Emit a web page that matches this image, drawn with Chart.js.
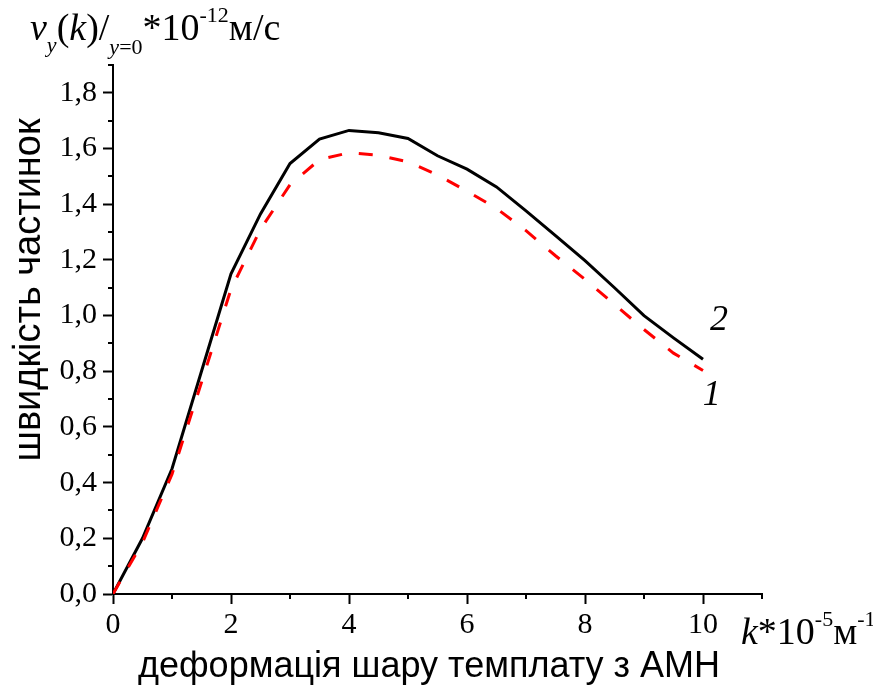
<!DOCTYPE html>
<html>
<head>
<meta charset="utf-8">
<script src="https://cdn.jsdelivr.net/npm/chart.js@4.4.1/dist/chart.umd.min.js"></script>
<style>
html,body{margin:0;padding:0;background:#fff;}
#wrap{width:873px;height:688px;position:relative;}
</style>
</head>
<body>
<div id="wrap"><canvas id="chartSwidkist"></canvas></div>
<script>
/* швидкість частинок vs деформація шару темплату, криві 1 і 2 */
var kValues = [0, 0.5, 1, 1.5, 2, 2.5, 3, 3.5, 4, 4.5, 5, 5.5, 6, 6.5, 7, 7.5, 8, 8.5, 9, 9.5, 10];
var curve2 = [0, 0.2, 0.45, 0.8, 1.15, 1.365, 1.546, 1.634, 1.665, 1.657, 1.636, 1.574, 1.526, 1.462, 1.376, 1.287, 1.197, 1.1, 1.0, 0.92, 0.843];
var curve1 = [0, 0.185, 0.43, 0.76, 1.095, 1.31, 1.47, 1.56, 1.585, 1.576, 1.552, 1.505, 1.447, 1.385, 1.305, 1.215, 1.13, 1.04, 0.95, 0.865, 0.803];
var yTickValues = [0, 0.2, 0.4, 0.6, 0.8, 1.0, 1.2, 1.4, 1.6, 1.8];
var yTickLabels = ['0,0', '0,2', '0,4', '0,6', '0,8', '1,0', '1,2', '1,4', '1,6', '1,8'];
var yMinorTicks = [0.1, 0.3, 0.5, 0.7, 0.9, 1.1, 1.3, 1.5, 1.7, 1.9];
var xTickValues = [0, 2, 4, 6, 8, 10];
var xTickLabels = ['0', '2', '4', '6', '8', '10'];
var xMinorTicks = [1, 3, 5, 7, 9, 11];

(function(){
'use strict';

var SERIF = '"Liberation Serif", "Times New Roman", serif';
var SANS = '"Liberation Sans", Arial, sans-serif';

function points(ys){
  return kValues.map(function(k, i){ return {x:k, y:ys[i]}; });
}

// pieces: [text, size, italic, shift]
function drawPieces(ctx, x, y, pieces){
  pieces.forEach(function(p){
    ctx.font = (p[2] ? 'italic ' : '') + p[1] + 'px ' + SERIF;
    ctx.fillText(p[0], x, y + p[3]);
    x += ctx.measureText(p[0]).width;
  });
}

var decorPlugin = {
  id:'decor',
  afterDraw:function(chart){
    var ctx = chart.ctx;
    var xs = chart.scales.x, ys = chart.scales.y;
    var area = chart.chartArea;
    ctx.save();
    // minor ticks
    ctx.strokeStyle = '#000';
    ctx.lineWidth = 2;
    ctx.beginPath();
    yMinorTicks.forEach(function(v){
      var py = Math.round(ys.getPixelForValue(v));
      ctx.moveTo(area.left - 5, py); ctx.lineTo(area.left, py);
    });
    xMinorTicks.forEach(function(v){
      var px = Math.round(xs.getPixelForValue(v));
      ctx.moveTo(px, area.bottom); ctx.lineTo(px, area.bottom + 5);
    });
    ctx.stroke();

    ctx.fillStyle = '#000';
    ctx.textBaseline = 'alphabetic';
    ctx.textAlign = 'left';

    // top-left unit label
    drawPieces(ctx, 30, 40, [
      ['v', 38, true, 0], ['y', 22, true, 12], ['(', 38, false, 0], ['k', 38, true, 0],
      [')/', 38, false, 0], ['y', 22, true, 14], ['=0', 22, false, 14],
      ['*10', 38, false, 0], ['-12', 22, false, -18], ['м/с', 38, false, 0]
    ]);
    // bottom-right unit label
    drawPieces(ctx, 741, 644, [
      ['k', 38, true, 0], ['*10', 38, false, 0], ['-5', 22, false, -18],
      ['м', 38, false, 0], ['-1', 22, false, -18]
    ]);

    // curve numbers
    ctx.font = 'italic 36px ' + SERIF;
    ctx.textAlign = 'center';
    ctx.textBaseline = 'middle';
    ctx.fillText('2', xs.getPixelForValue(10.27), ys.getPixelForValue(0.983));
    ctx.fillText('1', xs.getPixelForValue(10.15), ys.getPixelForValue(0.714));

    // axis titles
    ctx.font = '36px ' + SANS;
    ctx.textBaseline = 'alphabetic';
    ctx.fillText('деформація шару темплату з АМН', 429, 677);
    ctx.font = '38px ' + SANS;
    ctx.translate(40, 290);
    ctx.rotate(-Math.PI / 2);
    ctx.fillText('швидкість частинок', 0, 0);
    ctx.restore();
  }
};

function axisBase(){
  return {
    type:'linear',
    grid:{drawOnChartArea:false, drawTicks:true, tickLength:10, tickWidth:2, tickColor:'#000'},
    border:{display:true, color:'#000', width:2},
    ticks:{color:'#000', font:{family:SERIF, size:30}, autoSkip:false, maxRotation:0}
  };
}

var xAxis = axisBase();
xAxis.min = 0; xAxis.max = 11;
xAxis.ticks.padding = 3;
xAxis.ticks.callback = function(v, i){ return xTickLabels[i]; };
xAxis.afterBuildTicks = function(s){ s.ticks = xTickValues.map(function(v){ return {value:v}; }); };
xAxis.afterFit = function(s){ s.height = 94; };

var yAxis = axisBase();
yAxis.min = 0; yAxis.max = 1.9;
yAxis.ticks.padding = 6;
yAxis.ticks.callback = function(v, i){ return yTickLabels[i]; };
yAxis.afterBuildTicks = function(s){ s.ticks = yTickValues.map(function(v){ return {value:v}; }); };
yAxis.afterFit = function(s){ s.width = 113; };

new Chart(document.getElementById('chartSwidkist'), {
  type:'line',
  data:{
    datasets:[
      {label:'2', data:points(curve2), borderColor:'#000', borderWidth:3, pointRadius:0, tension:0, order:1},
      {label:'1', data:points(curve1), borderColor:'#ff0000', borderWidth:3, borderDash:[14,17], pointRadius:0, tension:0, order:0}
    ]
  },
  options:{
    responsive:true,
    maintainAspectRatio:false,
    animation:false,
    events:[],
    layout:{padding:{left:0, top:65, right:111, bottom:0}},
    plugins:{legend:{display:false}, tooltip:{enabled:false}},
    scales:{x:xAxis, y:yAxis}
  },
  plugins:[decorPlugin]
});
})();
</script>
</body>
</html>
